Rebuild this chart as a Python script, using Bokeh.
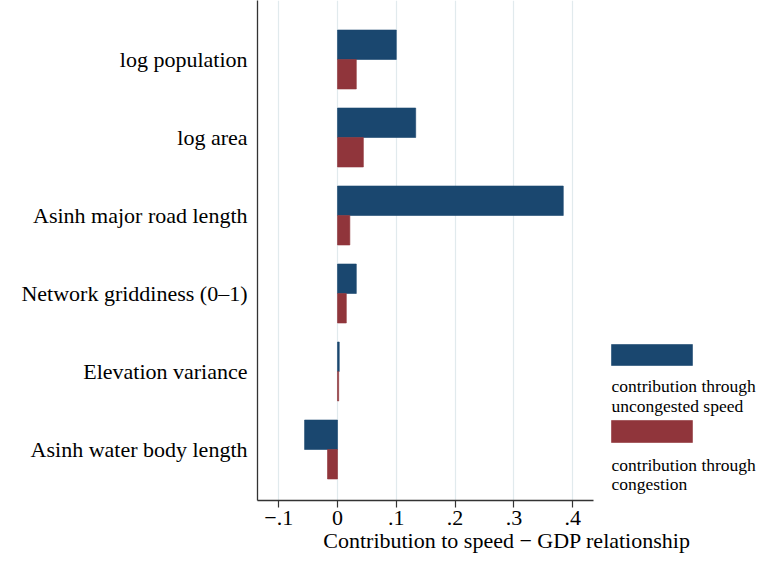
from bokeh.plotting import figure
from bokeh.models import FixedTicker, BoxAnnotation, Range1d
from bokeh.core.properties import value
from bokeh.embed import file_html
from bokeh.resources import INLINE

categories = ["log population", "log area", "Asinh major road length",
              "Network griddiness (0\u20131)", "Elevation variance",
              "Asinh water body length"]
uncongested = [0.100, 0.133, 0.384, 0.032, 0.003, -0.056]
congestion = [0.032, 0.044, 0.021, 0.015, 0.002, -0.017]
x_ticks = [-0.1, 0.0, 0.1, 0.2, 0.3, 0.4]
x_tick_labels = ["\u2212.1", "0", ".1", ".2", ".3", ".4"]
legend_labels = [["contribution through", "uncongested speed"],
                 ["contribution through", "congestion"]]

BLUE = "#1a476f"
RED = "#90353b"
FONT = "Liberation Serif"

n = len(categories)
ypos = [n - 1 - i for i in range(n)]
bar_h = 0.378

p = figure(width=756, height=556, output_backend="svg", toolbar_location=None,
           x_range=Range1d(-0.13605, 0.71259), y_range=Range1d(-0.6538, 5.7564),
           min_border_left=257, min_border_right=0, min_border_top=0,
           min_border_bottom=56)
p.outline_line_color = None
p.background_fill_color = "white"
p.border_fill_color = "white"

p.hbar(y=[y + bar_h / 2 for y in ypos], left=0, right=uncongested, height=bar_h,
       fill_color=BLUE, line_color=BLUE, line_alpha=0.6, line_width=1)
p.hbar(y=[y - bar_h / 2 for y in ypos], left=0, right=congestion, height=bar_h,
       fill_color=RED, line_color=RED, line_alpha=0.6, line_width=1)

# x axis
xa = p.xaxis[0]
xa.ticker = FixedTicker(ticks=x_ticks)
xa.major_label_overrides = {t: l for t, l in zip(x_ticks, x_tick_labels)}
xa.bounds = (-0.13605, 0.4354)
xa.axis_line_color = "#333333"
xa.axis_line_width = 1.3
xa.major_tick_line_color = "#333333"
xa.major_tick_line_width = 1.2
xa.major_tick_out = 7
xa.major_tick_in = 0
xa.minor_tick_line_color = None
xa.major_label_text_font = FONT
xa.major_label_text_font_size = "22px"
xa.major_label_text_color = "black"
xa.major_label_standoff = 3
xa.axis_label = "Contribution to speed \u2212 GDP relationship"
xa.axis_label_text_font = FONT
xa.axis_label_text_font_size = "22px"
xa.axis_label_text_font_style = "normal"
xa.axis_label_text_color = "black"
xa.axis_label_standoff = 0

# y axis
ya = p.yaxis[0]
ya.ticker = FixedTicker(ticks=ypos)
ya.major_label_overrides = {y: c for y, c in zip(ypos, categories)}
ya.axis_line_color = "#333333"
ya.axis_line_width = 1.3
ya.major_tick_line_color = None
ya.minor_tick_line_color = None
ya.major_tick_out = 0
ya.major_tick_in = 0
ya.major_label_text_font = FONT
ya.major_label_text_font_size = "22px"
ya.major_label_text_color = "black"
ya.major_label_standoff = 10

p.xgrid.grid_line_color = "#e1eaed"
p.xgrid.grid_line_width = 1.2
p.ygrid.grid_line_color = None

# legend (outside the plotting region, to the right)
lx0, lx1 = 0.466, 0.6037
swatches = [(1.346, 1.077, BLUE), (0.372, 0.0897, RED)]
text_rows = [[0.8205, 0.564], [-0.205, -0.436]]
for (top, bottom, col), labels, rows in zip(swatches, legend_labels, text_rows):
    p.add_layout(BoxAnnotation(left=lx0, right=lx1, top=top, bottom=bottom,
                               fill_color=col, fill_alpha=1.0,
                               line_color=col, line_alpha=0.6))
    p.text(x=[lx0] * len(labels), y=rows, text=labels,
           text_font=value(FONT), text_font_size="17.5px", text_color="black",
           text_baseline="middle", text_align="left", text_line_height=1.0)

open("out.html", "w").write(file_html(p, INLINE))
